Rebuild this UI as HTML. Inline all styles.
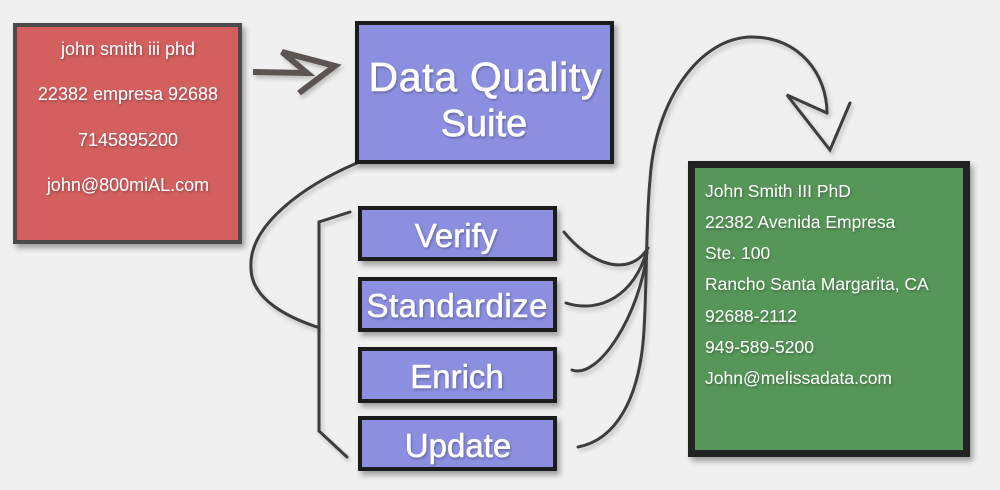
<!DOCTYPE html>
<html>
<head>
<meta charset="utf-8">
<style>
  html, body { margin: 0; padding: 0; background: #f0f0f0; }
  body { width: 1000px; height: 490px; overflow: hidden; }
  svg { display: block; }
  text { font-family: "Liberation Sans", sans-serif; fill: #ffffff; }
</style>
</head>
<body>
<svg width="1000" height="490" viewBox="0 0 1000 490" xmlns="http://www.w3.org/2000/svg">
  <defs>
    <filter id="bs" x="-20%" y="-20%" width="150%" height="150%">
      <feDropShadow dx="3" dy="4" stdDeviation="3" flood-color="#000" flood-opacity="0.35"/>
    </filter>
    <filter id="ls" x="-20%" y="-20%" width="150%" height="150%">
      <feDropShadow dx="2" dy="3" stdDeviation="2" flood-color="#000" flood-opacity="0.22"/>
    </filter>
    <filter id="ts" x="-10%" y="-10%" width="130%" height="140%">
      <feDropShadow dx="1" dy="1.5" stdDeviation="1.2" flood-color="#000" flood-opacity="0.3"/>
    </filter>
  </defs>
  <rect width="1000" height="490" fill="#f0f0f0"/>

  <!-- connectors -->
  <g fill="none" stroke="#3c3c3c" stroke-width="3" stroke-linecap="round" stroke-linejoin="miter" filter="url(#ls)">
    <path d="M357,163 C305,185 248,225 251,268 C251,300 290,318 317,327"/>
    <path d="M350,212 L319,222 L319,431 L347,457"/>
    <path d="M564,232 C588,262 628,280 648,248"/>
    <path d="M566,303 C600,314 635,295 647,250"/>
    <path d="M572,370 C598,380 640,315 647,252"/>
    <path d="M578,447 C615,440 640,400 644,330 C647,280 646,220 650,180 C655,100 700,37 752,37 C800,37 827,75 827,113"/>
    <path d="M827,113 L787,95 L830,150 L850,103"/>
  </g>

  <!-- first arrow -->
  <path d="M253,72 L307,73 L282,52 L335,66 L299,93" fill="none" stroke="#5b5252" stroke-width="6" stroke-linejoin="miter" filter="url(#ls)"/>

  <!-- red box -->
  <rect x="15" y="25" width="225" height="217" fill="#d45f5f" stroke="#4c4c4c" stroke-width="4" filter="url(#bs)"/>
  <g font-size="18" text-anchor="middle" filter="url(#ts)">
    <text x="128" y="55">john smith iii phd</text>
    <text x="128" y="100">22382 empresa 92688</text>
    <text x="128" y="146">7145895200</text>
    <text x="128" y="191">john@800miAL.com</text>
  </g>

  <!-- Data Quality Suite -->
  <rect x="357" y="23" width="255" height="139" fill="#8c8fe0" stroke="#1e1e1e" stroke-width="4" filter="url(#bs)"/>
  <g text-anchor="middle" filter="url(#ts)" stroke="#ffffff" stroke-width="0.6">
    <text x="485" y="91" font-size="41" textLength="233" lengthAdjust="spacing">Data Quality</text>
    <text x="484" y="136" font-size="38">Suite</text>
  </g>

  <!-- small boxes -->
  <g fill="#8c8fe0" stroke="#1e1e1e" stroke-width="4" filter="url(#bs)">
    <rect x="360" y="208" width="195" height="51"/>
    <rect x="360" y="279" width="195" height="51"/>
    <rect x="360" y="349" width="195" height="52"/>
    <rect x="360" y="418" width="195" height="51"/>
  </g>
  <g font-size="33" text-anchor="middle" filter="url(#ts)" stroke="#ffffff" stroke-width="0.5">
    <text x="456" y="247">Verify</text>
    <text x="457" y="317" textLength="181" lengthAdjust="spacing">Standardize</text>
    <text x="457" y="388">Enrich</text>
    <text x="458" y="457">Update</text>
  </g>

  <!-- green box -->
  <rect x="691.5" y="164.5" width="275" height="289" fill="#569659" stroke="#222222" stroke-width="7" filter="url(#bs)"/>
  <g font-size="17.5" filter="url(#ts)">
    <text x="705" y="197">John Smith III PhD</text>
    <text x="705" y="228">22382 Avenida Empresa</text>
    <text x="705" y="259">Ste. 100</text>
    <text x="705" y="290">Rancho Santa Margarita, CA</text>
    <text x="705" y="322">92688-2112</text>
    <text x="705" y="353">949-589-5200</text>
    <text x="705" y="384">John@melissadata.com</text>
  </g>
</svg>
</body>
</html>
